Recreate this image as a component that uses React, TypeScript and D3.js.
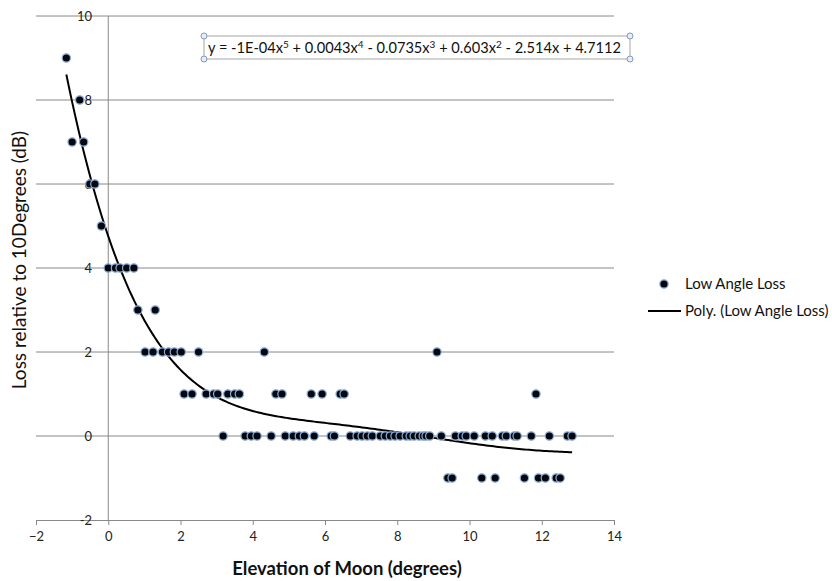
import React, { useEffect, useRef } from 'react';
import * as d3 from 'd3';

// Low angle loss readings: elevation (deg) and loss (dB)
const elevation = [
  -1.16, -0.79, -1.0, -0.68, -0.51, -0.37, -0.19,
  0, 0.2, 0.33, 0.51, 0.71,
  0.82, 1.3,
  1.02, 1.24, 1.5, 1.67, 1.83, 2.02, 2.5, 4.32, 9.1,
  2.1, 2.32, 2.71, 2.92, 3.03, 3.31, 3.5, 3.63, 4.64, 4.81, 5.62, 5.92, 6.42, 6.53, 11.84,
  3.18, 3.79, 3.96, 4.12, 4.51, 4.9, 5.12, 5.29, 5.43, 5.7, 6.17, 6.26, 6.7, 6.89, 7.03,
  7.17, 7.31, 7.53, 7.67, 7.81, 7.94, 8.08, 8.25, 8.36, 8.47, 8.61, 8.72, 8.8, 9.22,
  9.61, 9.8, 9.91, 10.13, 10.44, 10.63, 10.91, 11.02, 11.24, 11.32, 11.71, 12.21, 12.71, 12.84,
  8.9, 9.4, 9.52, 10.34, 10.71, 11.52, 11.91, 12.1, 12.4, 12.51,
];
const loss = [
  9, 8, 7, 7, 6, 6, 5,
  4, 4, 4, 4, 4,
  3, 3,
  2, 2, 2, 2, 2, 2, 2, 2, 2,
  1, 1, 1, 1, 1, 1, 1, 1, 1, 1, 1, 1, 1, 1, 1,
  0, 0, 0, 0, 0, 0, 0, 0, 0, 0, 0, 0, 0, 0, 0,
  0, 0, 0, 0, 0, 0, 0, 0, 0, 0, 0, 0, 0, 0, 0,
  0, 0, 0, 0, 0, 0, 0, 0, 0, 0, 0, 0, 0, 0,
  -1, -1, -1, -1, -1, -1, -1, -1, -1, -1,
];
const xTicks = [-2, 0, 2, 4, 6, 8, 10, 12, 14];
const yTicks = [-2, 0, 2, 4, 6, 8, 10];
const seriesName = 'Low Angle Loss';
const trendName = 'Poly. (Low Angle Loss)';
// equation label pieces: [text, superscript]
const eqParts: [string, string][] = [
  ['y = -1E-04x', '5'], [' + 0.0043x', '4'], [' - 0.0735x', '3'],
  [' + 0.603x', '2'], [' - 2.514x + 4.7112', ''],
];

// least squares polynomial, like Excel's trendline
function polyFit(xs: number[], ys: number[], deg: number) {
  const c = d3.mean(xs) as number;
  const s = (d3.deviation(xs) as number) || 1;
  const n = deg + 1;
  const A = Array.from({ length: n }, () => new Array(n + 1).fill(0));
  xs.forEach((x, k) => {
    const t = (x - c) / s;
    const p = d3.range(n).map(i => Math.pow(t, i));
    for (let i = 0; i < n; i++) {
      for (let j = 0; j < n; j++) A[i][j] += p[i] * p[j];
      A[i][n] += p[i] * ys[k];
    }
  });
  for (let col = 0; col < n; col++) {
    let piv = col;
    for (let r = col + 1; r < n; r++) if (Math.abs(A[r][col]) > Math.abs(A[piv][col])) piv = r;
    [A[col], A[piv]] = [A[piv], A[col]];
    for (let r = 0; r < n; r++) {
      if (r === col) continue;
      const f = A[r][col] / A[col][col];
      for (let k = col; k <= n; k++) A[r][k] -= f * A[col][k];
    }
  }
  const coef = A.map((row, i) => row[n] / row[i]);
  return (x: number) => {
    const t = (x - c) / s;
    return coef.reduce((acc, a, i) => acc + a * Math.pow(t, i), 0);
  };
}

export default function App() {
  const ref = useRef<SVGSVGElement>(null);

  useEffect(() => {
    const svg = d3.select(ref.current);
    svg.selectAll('*').remove();
    const font = 'Lato, "Open Sans", sans-serif';

    const x = d3.scaleLinear().domain([-2, 14]).range([36, 614]);
    const y = d3.scaleLinear().domain([-2, 10]).range([520, 16]);

    // gridlines
    svg.append('g').selectAll('line').data(yTicks.filter(t => t > -2)).join('line')
      .attr('x1', x(-2)).attr('x2', x(14))
      .attr('y1', d => y(d)).attr('y2', d => y(d))
      .attr('stroke', '#888').attr('stroke-width', 1);

    // y axis at x = 0
    svg.append('line')
      .attr('x1', x(0)).attr('x2', x(0)).attr('y1', y(10)).attr('y2', y(-2))
      .attr('stroke', '#888');

    // x axis at bottom
    const xAxis = svg.append('g').attr('transform', `translate(0, ${y(-2)})`)
      .call(d3.axisBottom(x).tickValues(xTicks).tickSize(5).tickPadding(7).tickFormat(d3.format('d')));
    xAxis.select('.domain').attr('stroke', '#888');
    xAxis.selectAll('.tick line').attr('stroke', '#888');
    xAxis.selectAll('text').attr('font-family', font).attr('font-size', 13).attr('fill', '#222');

    svg.append('g').selectAll('text').data(yTicks).join('text')
      .attr('x', 92).attr('y', d => y(d)).attr('dy', '0.35em')
      .attr('text-anchor', 'end')
      .attr('font-family', font).attr('font-size', 13).attr('fill', '#222')
      .text(d => d);

    // trendline
    const fit = polyFit(elevation, loss, 5);
    const [x0, x1] = d3.extent(elevation) as [number, number];
    const curve = d3.range(0, 201).map(i => x0 + (x1 - x0) * i / 200);
    svg.append('path')
      .attr('d', d3.line<number>().x(d => x(d)).y(d => y(fit(d)))(curve))
      .attr('fill', 'none').attr('stroke', '#000').attr('stroke-width', 2);

    // points
    svg.append('g').selectAll('circle').data(elevation).join('circle')
      .attr('cx', d => x(d)).attr('cy', (d, i) => y(loss[i]))
      .attr('r', 4.2)
      .attr('fill', '#05070f').attr('stroke', '#8fb0d8').attr('stroke-width', 1.2);

    // equation box
    const box = svg.append('g');
    box.append('rect').attr('x', 204).attr('y', 36).attr('width', 426).attr('height', 23)
      .attr('fill', '#fff').attr('stroke', '#a6a6a6');
    const eq = box.append('text').attr('x', 208).attr('y', 52.5)
      .attr('font-family', font).attr('font-size', 14.6).attr('fill', '#111');
    let raised = false;
    eqParts.forEach(([base, sup]) => {
      eq.append('tspan').attr('dy', raised ? 5 : 0).text(base);
      raised = false;
      if (sup) {
        eq.append('tspan').attr('dy', -5).attr('font-size', 10).text(sup);
        raised = true;
      }
    });
    [[204, 36], [630, 36], [204, 59], [630, 59]].forEach(([cx, cy]) => {
      box.append('circle').attr('cx', cx).attr('cy', cy).attr('r', 3)
        .attr('fill', '#e4edf6').attr('stroke', '#7d9cbc');
    });

    // legend
    svg.append('circle').attr('cx', 664).attr('cy', 284).attr('r', 4.2)
      .attr('fill', '#05070f').attr('stroke', '#8fb0d8').attr('stroke-width', 1.2);
    svg.append('text').attr('x', 685).attr('y', 284).attr('dy', '0.35em')
      .attr('font-family', font).attr('font-size', 15).attr('fill', '#111').text(seriesName);
    svg.append('line').attr('x1', 648).attr('x2', 681).attr('y1', 311).attr('y2', 311)
      .attr('stroke', '#000').attr('stroke-width', 2);
    svg.append('text').attr('x', 685).attr('y', 311).attr('dy', '0.35em')
      .attr('font-family', font).attr('font-size', 15).attr('fill', '#111').text(trendName);

    // axis titles
    svg.append('text').attr('x', 347).attr('y', 575).attr('text-anchor', 'middle')
      .attr('font-family', font).attr('font-size', 18.5).attr('font-weight', 'bold')
      .attr('fill', '#111').text('Elevation of Moon (degrees)');
    svg.append('text').attr('transform', 'translate(26, 260) rotate(-90)')
      .attr('text-anchor', 'middle')
      .attr('font-family', font).attr('font-size', 19).attr('fill', '#111')
      .text('Loss relative to 10Degrees (dB)');
  }, []);

  return (
    <svg ref={ref} width={832} height={581}
      style={{ position: 'absolute', left: 0, top: 0, background: '#fff' }} />
  );
}
